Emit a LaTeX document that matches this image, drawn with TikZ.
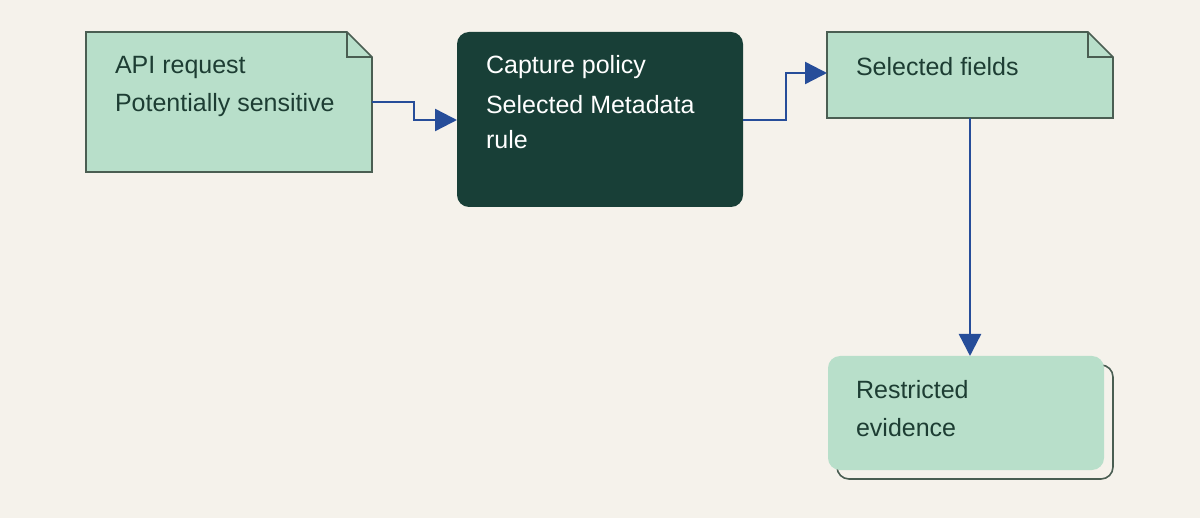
\documentclass[tikz,border=0pt]{standalone}
\usepackage{fontspec}
\setmainfont{Liberation Sans}
\usetikzlibrary{arrows.meta}
\definecolor{bgc}{HTML}{F5F2EB}
\definecolor{leaf}{HTML}{B8DFCA}
\definecolor{edge}{HTML}{4A5E52}
\definecolor{deep}{HTML}{183F37}
\definecolor{link}{HTML}{264D99}
\definecolor{ink}{HTML}{1D3D33}
\tikzset{
  doc/.style={draw=edge,fill=leaf,line width=0.8pt,anchor=north west,inner sep=0pt},
  box/.style={anchor=north west,inner sep=0pt,rounded corners=5pt},
  txt/.style={anchor=west,font=\fontsize{12.5}{15}\selectfont,text=ink},
  flow/.style={draw=link,line width=1.2pt,-{Triangle[length=11pt,width=11pt]}}
}
\begin{document}
\begin{tikzpicture}[x=0.5pt,y=-0.5pt]
    \fill[bgc] (0,0) rectangle (1200,518);
    \useasboundingbox (0,0) rectangle (1200,518);

    % api request
    \draw[doc] (86,32) -- (347,32) -- (372,57) -- (372,172) -- (86,172) -- cycle;
    \draw[edge,line width=0.8pt] (347,32) -- (347,57) -- (372,57);
    \node (req) at (229,102) {};
    \node[txt] (reqa) at (108,67) {API request};
    \node[txt] (reqb) at (108,105) {Potentially sensitive};

    % capture policy
    \fill[deep,rounded corners=6pt] (457,32) rectangle (743,207);
    \node[txt,text=white] (pola) at (479,67) {Capture policy};
    \node[txt,text=white] (polb) at (479,105) {Selected Metadata};
    \node[txt,text=white] (polc) at (479,140) {rule};
    \coordinate (polin) at (457,120);
    \coordinate (polout) at (743,120);

    % selected fields
    \draw[doc] (827,32) -- (1088,32) -- (1113,57) -- (1113,118) -- (827,118) -- cycle;
    \draw[edge,line width=0.8pt] (1088,32) -- (1088,57) -- (1113,57);
    \node[txt] (sel) at (849,67) {Selected fields};
    \coordinate (selin) at (827,73);
    \coordinate (selout) at (970,118);

    % restricted evidence
    \draw[edge,line width=0.8pt,rounded corners=6pt] (837,365) rectangle (1113,479);
    \fill[leaf,rounded corners=6pt] (828,356) rectangle (1104,470);
    \node[txt] (resa) at (849,390) {Restricted};
    \node[txt] (resb) at (849,428) {evidence};
    \coordinate (resin) at (970,356);

    \coordinate (reqout) at (372,102);
    \draw[flow] (reqout) -- (414,102) -- (414,120) -- (polin);
    \draw[flow] (polout) -- (786,120) -- (786,73) -- (selin);
    \draw[flow] (selout) -- (resin);
\end{tikzpicture}
\end{document}
